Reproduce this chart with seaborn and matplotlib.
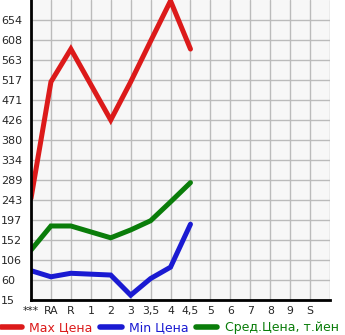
import numpy as np
import pandas as pd
import matplotlib
matplotlib.use("Agg")
import matplotlib.pyplot as plt
import seaborn as sns
from matplotlib.lines import Line2D

categories = ["***", "RA", "R", "1", "2", "3", "3,5", "4", "4,5", "5", "6", "7", "8", "9", "S"]
max_price = [247, 513, 588, None, 426, 513, 606, 698, 588, None, None, None, None, None, None]
min_price = [82, 68, 76, None, 72, 26, 64, 90, 188, None, None, None, None, None, None]
avg_price = [129, 184, 184, None, 157, 175, 196, 239, 283, None, None, None, None, None, None]
y_ticks = [15, 60, 106, 152, 197, 243, 289, 334, 380, 426, 471, 517, 563, 608, 654]
series_names = ["Max Цена", "Min Цена", "Сред.Цена, т.йен"]
colors = ["#dc1a1a", "#1a1ad2", "#0a7d0a"]

rows = []
for name, vals in zip(series_names, [max_price, min_price, avg_price]):
    for i, v in enumerate(vals):
        if v is not None:
            rows.append({"x": i, "value": v, "series": name})
df = pd.DataFrame(rows)

sns.set_style("white")
plt.rcParams['font.family'] = ['DejaVu Sans']

fig = plt.figure(figsize=(3.45, 3.35), dpi=100)
ax = fig.add_axes([31/345, 35/335, 299/345, 300/335])
ax.set_facecolor("#f7f7f7")

sns.lineplot(data=df, x="x", y="value", hue="series", palette=colors,
             hue_order=series_names, linewidth=3.6, ax=ax, legend=False,
             solid_capstyle="round", solid_joinstyle="miter")

ax.set_xlim(0, 15)
ax.set_ylim(15, 700)
ax.set_xticks(range(15))
ax.set_xticklabels(categories, fontsize=7.8)
ax.set_yticks(y_ticks)
ax.set_yticklabels([str(t) for t in y_ticks], fontsize=8, ha="left")
ax.set_xticks(np.arange(1, 16), minor=True)
ax.grid(True, which="major", color="#bbbbbb", linewidth=1)
ax.grid(True, which="minor", axis="x", color="#bbbbbb", linewidth=1)
ax.set_xlabel("")
ax.set_ylabel("")

for s in ["top", "right"]:
    ax.spines[s].set_visible(False)
for s in ["left", "bottom"]:
    ax.spines[s].set_color("black")
    ax.spines[s].set_linewidth(2)
ax.tick_params(axis="x", which="major", length=2.5, width=1, color="black", pad=2)
ax.tick_params(axis="y", which="major", length=3, width=1, color="black", pad=18.6)
ax.tick_params(axis="both", which="minor", length=0)

handles = [Line2D([0], [0], color=c, linewidth=4, solid_capstyle="round") for c in colors]
leg = fig.legend(handles, series_names, loc="lower left", bbox_to_anchor=(0.0, 0.0),
                 ncol=3, frameon=False, fontsize=9.0, handlelength=1.7, handletextpad=0.6,
                 columnspacing=0.6, borderaxespad=0, borderpad=0.05)
for t, c in zip(leg.get_texts(), colors):
    t.set_color(c)

fig.savefig("out.png", dpi=100)
